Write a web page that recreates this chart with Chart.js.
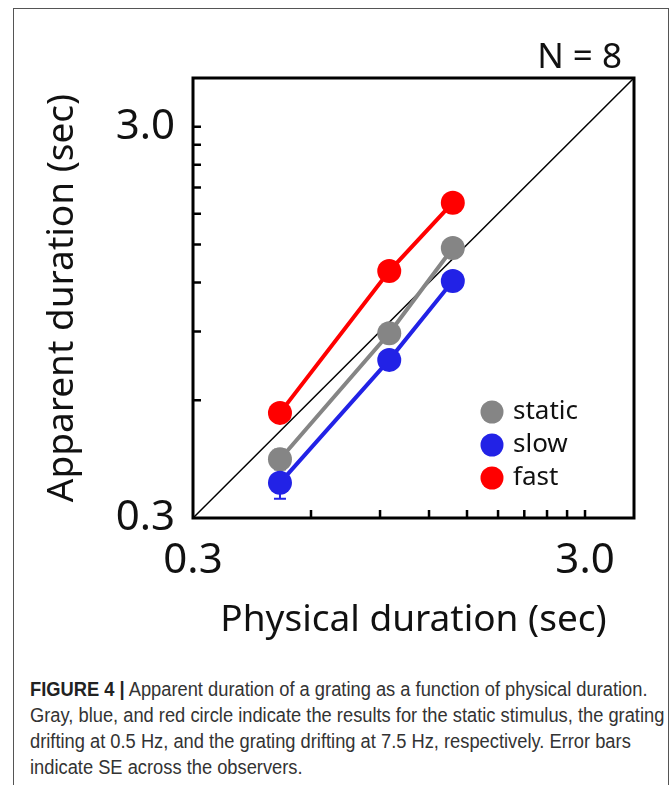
<!DOCTYPE html>
<html>
<head>
<meta charset="utf-8">
<script src="https://cdn.jsdelivr.net/npm/chart.js@4.4.0/dist/chart.umd.min.js"></script>
<style>
body { margin: 0; background: #fff; width: 672px; height: 785px; overflow: hidden; position: relative; }
#frame { position: absolute; left: 13px; top: 8px; width: 654px; height: 800px; border: 1.5px solid #555; border-bottom: none; }
#wrap { position: absolute; left: 0; top: 0; width: 672px; height: 660px; }
#caption { position: absolute; left: 30px; top: 676px; width: 760px; margin: 0; white-space: nowrap;
  transform: scaleX(0.915); transform-origin: 0 0;
  font-family: "Liberation Sans", Arial, sans-serif; font-size: 20px; line-height: 26px; color: #333; }
#caption b { color: #222; }
</style>
</head>
<body>
<div id="frame"></div>
<div id="wrap"><canvas id="durChart" width="672" height="660"></canvas></div>
<p id="caption"><b>FIGURE 4 |</b> Apparent duration of a grating as a function of physical duration.<br>Gray, blue, and red circle indicate the results for the static stimulus, the grating<br>drifting at 0.5 Hz, and the grating drifting at 7.5 Hz, respectively. Error bars<br>indicate SE across the observers.</p>
<script>
// values (seconds)
var physical = [0.5, 0.95, 1.38];
var staticDur = [0.424, 0.89, 1.47];
var slowDur = [0.369, 0.761, 1.21];
var fastDur = [0.557, 1.284, 1.92];
var staticErr = [0.025, 0.03, 0.04];
var slowErr = [0.033, 0.03, 0.04];
var fastErr = [0.02, 0.03, 0.04];
var seriesNames = ['static', 'slow', 'fast'];
var tickLabels = [0.3, 3.0];
var tickMarks = [0.6, 0.9, 1.2, 1.5, 1.8, 2.1, 2.4, 2.7, 3.0];
var axisRange = [0.3, 4.0];

var FONT = '"Noto Sans", "DejaVu Sans", sans-serif';

function pts(ys) {
  return physical.map(function (x, i) { return { x: x, y: ys[i] }; });
}

function series(label, ys, err, color, order) {
  return {
    label: label, data: pts(ys), err: err, legend: true, order: order,
    borderColor: color, backgroundColor: color, borderWidth: 4,
    pointRadius: 12, pointHoverRadius: 12, pointBorderWidth: 0,
    showLine: true, clip: false
  };
}

// frame, inward ticks, error bars, legend, N label
var extras = {
  id: 'extras',
  beforeDatasetsDraw: function (chart) {
    var ctx = chart.ctx, xs = chart.scales.x, ys = chart.scales.y;
    ctx.save();
    chart.data.datasets.forEach(function (ds) {
      if (!ds.err) return;
      ctx.strokeStyle = ds.borderColor;
      ctx.lineWidth = 2;
      ds.data.forEach(function (p, i) {
        var px = xs.getPixelForValue(p.x);
        var lo = ys.getPixelForValue(p.y - ds.err[i]);
        var hi = ys.getPixelForValue(p.y + ds.err[i]);
        ctx.beginPath();
        ctx.moveTo(px, lo); ctx.lineTo(px, hi);
        ctx.moveTo(px - 6, lo); ctx.lineTo(px + 6, lo);
        ctx.moveTo(px - 6, hi); ctx.lineTo(px + 6, hi);
        ctx.stroke();
      });
    });
    ctx.restore();
  },
  afterDraw: function (chart) {
    var ctx = chart.ctx, a = chart.chartArea, xs = chart.scales.x, ys = chart.scales.y;
    ctx.save();
    ctx.strokeStyle = '#000';
    ctx.lineWidth = 3;
    ctx.strokeRect(a.left, a.top, a.right - a.left, a.bottom - a.top);
    ctx.lineWidth = 2.5;
    ctx.beginPath();
    tickMarks.forEach(function (v) {
      var px = xs.getPixelForValue(v);
      ctx.moveTo(px, a.bottom); ctx.lineTo(px, a.bottom - 8);
      var py = ys.getPixelForValue(v);
      ctx.moveTo(a.left, py); ctx.lineTo(a.left + 8, py);
    });
    ctx.stroke();

    // legend inside the plot
    var items = chart.data.datasets.filter(function (d) { return d.legend; });
    ctx.font = '26px ' + FONT;
    ctx.textBaseline = 'middle';
    ctx.textAlign = 'left';
    items.forEach(function (d, i) {
      var cy = a.bottom - 106 + i * 33;
      ctx.fillStyle = d.backgroundColor;
      ctx.beginPath();
      ctx.arc(a.right - 142, cy, 11.5, 0, Math.PI * 2);
      ctx.fill();
      ctx.fillStyle = '#111';
      ctx.fillText(d.label, a.right - 121, cy);
    });

    ctx.font = '35px ' + FONT;
    ctx.textAlign = 'right';
    ctx.textBaseline = 'alphabetic';
    ctx.fillStyle = '#111';
    ctx.fillText('N = 8', a.right - 12, a.top - 10);
    ctx.restore();
  }
};

function logAxis(title, pad, size) {
  return {
    type: 'logarithmic', min: axisRange[0], max: axisRange[1],
    grid: { display: false, drawTicks: false },
    border: { display: false },
    afterBuildTicks: function (s) { s.ticks = tickLabels.map(function (v) { return { value: v }; }); },
    afterFit: function (s) { if (size.w) s.width = size.w; if (size.h) s.height = size.h; },
    ticks: {
      autoSkip: false, maxRotation: 0, padding: pad, color: '#111',
      font: { family: FONT, size: 42 },
      callback: function (v) { return Number(v).toFixed(1); }
    },
    title: {
      display: true, text: title, color: '#111',
      font: { family: FONT, size: 37, lineHeight: 1.2 }
    }
  };
}

var xAxis = logAxis('Physical duration (sec)', 18, { h: 142 });
xAxis.title.padding = { top: 0, bottom: 17 };
var yAxis = logAxis('Apparent duration (sec)', 18, { w: 193 });
yAxis.title.padding = { top: 40, bottom: 0 };

new Chart(document.getElementById('durChart'), {
  type: 'scatter',
  data: {
    datasets: [
      series(seriesNames[0], staticDur, staticErr, '#858585', 2),
      series(seriesNames[1], slowDur, slowErr, '#2222e6', 1),
      series(seriesNames[2], fastDur, fastErr, '#ff0000', 0),
      {
        label: 'identity', data: axisRange.map(function (v) { return { x: v, y: v }; }),
        showLine: true, borderColor: '#000', borderWidth: 1.5, pointRadius: 0, order: 10
      }
    ]
  },
  options: {
    responsive: false, animation: false,
    layout: { padding: { left: 0, right: 38, top: 78, bottom: 0 } },
    plugins: { legend: { display: false }, tooltip: { enabled: false } },
    scales: { x: xAxis, y: yAxis }
  },
  plugins: [extras]
});
</script>
</body>
</html>
